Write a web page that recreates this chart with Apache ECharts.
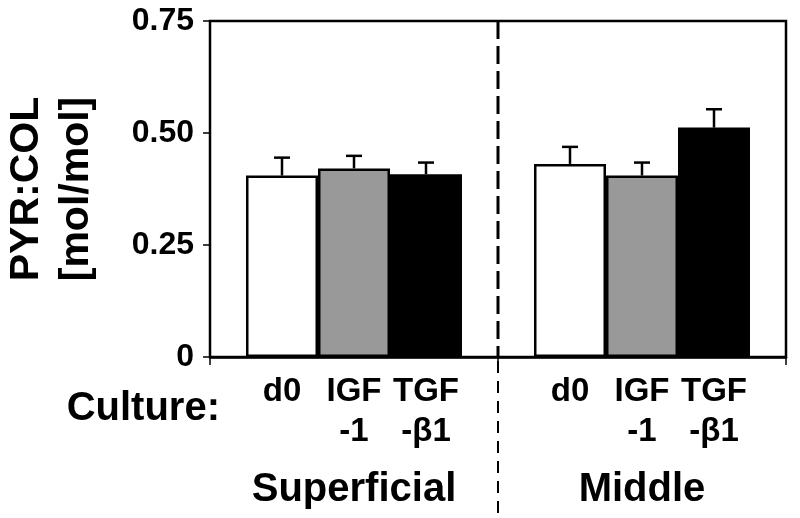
<!DOCTYPE html>
<html><head><meta charset="utf-8">
<script src="https://cdn.jsdelivr.net/npm/echarts@6/dist/echarts.min.js"></script>
<style>html,body{margin:0;padding:0;background:#fff}#c{width:800px;height:518px}</style>
</head><body><div id="c"></div>
<script>
// ---- data ----
const zones = ['Superficial', 'Middle'];
const cultures = ['d0', 'IGF\n-1', 'TGF\n-β1'];
const d0Values = [0.405, 0.431];
const igfValues = [0.421, 0.405];
const tgfValues = [0.408, 0.512];
const d0Err = [0.040, 0.038];
const igfErr = [0.028, 0.029];
const tgfErr = [0.026, 0.041];
const yTickLabels = ['0', '0.25', '0.50', '0.75'];
const yAxisTitle = 'PYR:COL\n[mol/mol]';
const cultureTitle = 'Culture:';

const FONT = '"Liberation Sans", Arial, Helvetica, sans-serif';
const barColors = ['#ffffff', '#999999', '#000000'];
const seriesValues = [d0Values, igfValues, tgfValues];
const seriesErr = [d0Err, igfErr, tgfErr];
const BAR_FRAC = 0.25;

const chart = echarts.init(document.getElementById('c'), null, {renderer: 'canvas'});

function errRender(idx) {
  return function (params, api) {
    const ci = api.value(0), v = api.value(1), e = api.value(2);
    const base = api.coord([ci, v]);
    const top = api.coord([ci, v + e]);
    const band = api.size([1, 0])[0];
    const x = base[0] + (idx - 1) * band * BAR_FRAC;
    const cap = 8;
    return {
      type: 'group',
      children: [
        {type: 'line', shape: {x1: x, y1: base[1], x2: x, y2: top[1]}, style: {stroke: '#000', lineWidth: 2.5}},
        {type: 'line', shape: {x1: x - cap, y1: top[1], x2: x + cap, y2: top[1]}, style: {stroke: '#000', lineWidth: 2.5}}
      ]
    };
  };
}

const series = [];
cultures.forEach((name, i) => {
  series.push({
    type: 'bar',
    name: name,
    data: seriesValues[i],
    barWidth: (BAR_FRAC * 100) + '%',
    barGap: '0%',
    itemStyle: {color: barColors[i], borderColor: '#000', borderWidth: 2.5},
    label: {
      show: true, position: 'bottom', distance: 15,
      formatter: name, color: '#000', fontFamily: FONT, fontWeight: 'bold',
      fontSize: 33, lineHeight: 40, align: 'center'
    },
    z: 2
  });
});
cultures.forEach((name, i) => {
  series.push({
    type: 'custom',
    renderItem: errRender(i),
    data: seriesValues[i].map((v, k) => [k, v, seriesErr[i][k]]),
    encode: {x: 0, y: 1},
    z: 3,
    silent: true
  });
});

chart.setOption({
  animation: false,
  backgroundColor: '#fff',
  grid: {left: 210, right: 14, top: 21, bottom: 161, outerBoundsMode: 'none', containLabel: false,
         show: true, borderColor: '#000', borderWidth: 2.5, backgroundColor: 'transparent'},
  xAxis: {
    type: 'category', data: zones,
    axisLine: {show: true, lineStyle: {color: '#000', width: 2.5}},
    axisTick: {show: true, length: 8, lineStyle: {color: '#000', width: 1.5}},
    axisLabel: {interval: 0, margin: 113, color: '#000', fontFamily: FONT, fontWeight: 'bold', fontSize: 40},
    splitLine: {show: false}
  },
  yAxis: {
    type: 'value', min: 0, max: 0.75, interval: 0.25,
    axisLine: {show: true, lineStyle: {color: '#000', width: 2}},
    axisTick: {show: true, length: 7, lineStyle: {color: '#000', width: 1.5}},
    axisLabel: {
      margin: 16, color: '#000', fontFamily: FONT, fontWeight: 'bold', fontSize: 32,
      formatter: v => yTickLabels[Math.round(v / 0.25)]
    },
    splitLine: {show: false},
    name: yAxisTitle, nameLocation: 'middle', nameRotate: 90, nameGap: 108,
    nameTextStyle: {color: '#000', fontFamily: FONT, fontWeight: 'bold', fontSize: 41, lineHeight: 50}
  },
  series: series
});

// divider between the two zones and the "Culture:" title
const xa = chart.convertToPixel({xAxisIndex: 0}, 0);
const xb = chart.convertToPixel({xAxisIndex: 0}, 1);
const xd = (xa + xb) / 2;
const yTop = chart.convertToPixel({yAxisIndex: 0}, 0.75);
const yBot = chart.convertToPixel({yAxisIndex: 0}, 0);
chart.setOption({
  graphic: [
    {type: 'line', shape: {x1: xd, y1: yTop, x2: xd, y2: yBot}, style: {stroke: '#000', lineWidth: 3, lineDash: [18, 7]}, z: 10},
    {type: 'line', shape: {x1: xd, y1: yBot + 4, x2: xd, y2: 518}, style: {stroke: '#000', lineWidth: 2, lineDash: [12, 8]}, z: 10},
    {type: 'text', x: 220, y: 389, style: {text: cultureTitle, fill: '#000', font: 'bold 40px ' + FONT, textAlign: 'right', textVerticalAlign: 'top'}, z: 10}
  ]
});
</script>
</body></html>
